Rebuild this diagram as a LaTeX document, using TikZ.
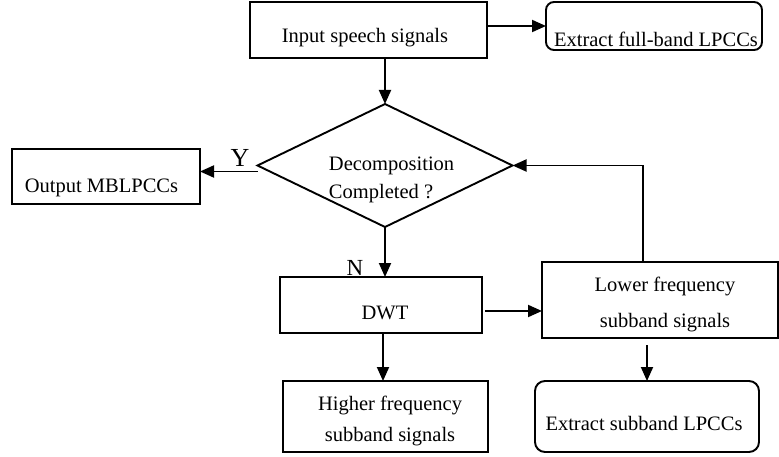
\documentclass[tikz,border=0pt]{standalone}
\usepackage{fontspec}
\setmainfont{Liberation Serif}
\usetikzlibrary{arrows.meta,shapes.geometric}

\begin{document}
\begin{tikzpicture}[x=1pt,y=-1pt,
  line width=1.9pt,
  box/.style={draw,rectangle,inner sep=0pt,outer sep=0pt},
  rbox/.style={box,rounded corners=8pt},
  txt/.style={inner sep=0pt,anchor=base,font=\fontsize{20.5}{24}\selectfont},
  flow/.style={-{Triangle[length=14pt,width=12pt]}},
  yn/.style={inner sep=0pt,anchor=base},
]
\useasboundingbox (0,0) rectangle (779,457);

% boxes
\node[box,minimum width=237pt,minimum height=56pt] (in) at (368.5,30) {};
\node[rbox,minimum width=216pt,minimum height=48pt] (full) at (654,26) {};
\node[draw,diamond,inner sep=0pt,outer sep=0pt,minimum width=255pt,minimum height=123pt] (dec) at (385,165.5) {};
\node[box,minimum width=188pt,minimum height=55pt] (out) at (106,176.5) {};
\node[box,minimum width=202pt,minimum height=56pt] (dwt) at (381,305) {};
\node[box,minimum width=236pt,minimum height=76pt] (low) at (660,300) {};
\node[box,minimum width=205pt,minimum height=71pt] (high) at (385.5,416.5) {};
\node[rbox,rounded corners=10pt,minimum width=224pt,minimum height=71pt] (sub) at (647,416.5) {};

% texts
\node[txt] at (365,43) {Input speech signals};
\node[txt] at (656,47) {Extract full-band LPCCs};
\node[txt,anchor=base west] at (328,171) {Decomposition};
\node[txt,anchor=base west] at (328,199) {Completed ?};
\node[txt] at (101.5,193) {Output MBLPCCs};
\node[txt] at (385,319) {DWT};
\node[txt] at (665,291) {Lower frequency};
\node[txt] at (665,327) {subband signals};
\node[txt] at (390,410) {Higher frequency};
\node[txt] at (390,441) {subband signals};
\node[txt] at (644,430) {Extract subband LPCCs};
\node[yn,font=\fontsize{26}{28}\selectfont] at (240,167) {Y};
\node[yn,font=\fontsize{23}{26}\selectfont] at (355,275) {N};

% connectors
\draw[flow] (in.east |- full.west) -- (full.west);
\draw[flow] (in.south -| dec.north) -- (dec.north);
\draw[flow] ([yshift=-6pt]dec.west) -- ([yshift=-6pt]dec.west -| out.east);
\draw[flow] (dec.south) -- (dec.south |- dwt.north);
\draw[flow] ([xshift=3pt,yshift=-6pt]dwt.east) -- ([yshift=-6pt]dwt.east -| low.west);
\draw[flow] ([xshift=-17pt]low.north) |- (dec.east);
\draw[flow] (dwt.south -| 383,0) -- (high.north -| 383,0);
\coordinate (lowout) at ([yshift=-7pt]low.south -| sub.north);
\draw[flow] (lowout) -- (sub.north);
\end{tikzpicture}
\end{document}
